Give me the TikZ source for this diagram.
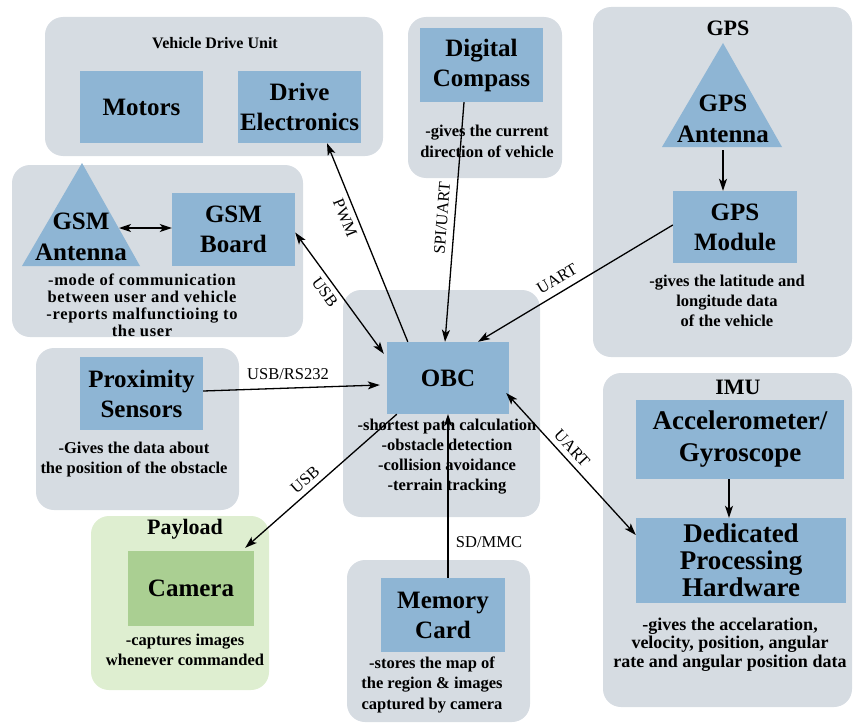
\documentclass[tikz,border=0pt]{standalone}
\usepackage{fontspec}
\setmainfont{Liberation Serif}
\usetikzlibrary{arrows.meta}
\definecolor{panelgray}{RGB}{214,220,226}
\definecolor{boxblue}{RGB}{142,181,212}
\definecolor{paygreen}{RGB}{222,238,208}
\definecolor{camgreen}{RGB}{170,207,146}
\begin{document}
\begin{tikzpicture}[x=1pt,y=-1pt,
  panel/.style={fill=panelgray, rounded corners=18pt, inner sep=0pt, draw=none},
  blk/.style={fill=boxblue, inner sep=0pt, align=center, font=\bfseries\fontsize{25}{30}\selectfont},
  desc/.style={inner sep=0pt, align=center, font=\bfseries\fontsize{16.5}{20}\selectfont},
  ttl/.style={inner sep=0pt, font=\bfseries\fontsize{22}{26}\selectfont},
  lbl/.style={inner sep=0pt, font=\fontsize{16.5}{20}\selectfont},
  conn/.style={line width=1.3pt, black},
  tip/.tip={Stealth[length=12pt,width=8pt,inset=3pt]}
]
\useasboundingbox (0,0) rectangle (853,725);

% ---------- panels ----------
\node[panel, minimum width=338pt, minimum height=139pt] (pVDU) at (214,86.5) {};
\node[panel, minimum width=154pt, minimum height=161pt] (pDC) at (485,97.5) {};
\node[panel, minimum width=259pt, minimum height=350pt] (pGPS) at (722.5,182) {};
\node[panel, minimum width=291pt, minimum height=172pt] (pGSM) at (157.5,251) {};
\node[panel, minimum width=203pt, minimum height=162pt] (pPROX) at (137.5,429) {};
\node[panel, minimum width=197pt, minimum height=227pt] (pOBC) at (441.5,403.5) {};
\node[panel, fill=paygreen, minimum width=178pt, minimum height=174pt] (pPAY) at (180,603) {};
\node[panel, minimum width=183pt, minimum height=162pt] (pMEM) at (438.5,641) {};
\node[panel, minimum width=249pt, minimum height=334pt] (pIMU) at (727.5,540) {};

% ---------- titles ----------
\node[inner sep=0pt, font=\bfseries\fontsize{16}{20}\selectfont] (tVDU) at (215,43) {Vehicle Drive Unit};
\node[ttl] (tGPS) at (728,28) {GPS};
\node[ttl] (tIMU) at (738,387) {IMU};
\node[ttl] (tPAY) at (185,529) {Payload};

% ---------- blocks ----------
\node[blk, minimum width=123pt, minimum height=72pt] (motors) at (141.5,107) {Motors};
\node[blk, minimum width=123pt, minimum height=72pt] (drive) at (299.5,107) {Drive\\Electronics};
\node[blk, minimum width=123pt, minimum height=74pt] (compass) at (481.5,65) {Digital\\Compass};
\node[blk, minimum width=124pt, minimum height=72pt] (gpsmod) at (735,227) {GPS\\Module};
\node[blk, minimum width=123pt, minimum height=73pt] (gsmboard) at (233.5,229.5) {GSM\\Board};
\node[blk, minimum width=123pt, minimum height=73pt] (prox) at (141.5,393.5) {Proximity\\Sensors};
\node[blk, minimum width=122pt, minimum height=72pt] (obc) at (448,378) {OBC};
\node[blk, fill=camgreen, minimum width=126pt, minimum height=75pt] (camera) at (191,588.5) {Camera};
\node[blk, minimum width=124pt, minimum height=74pt] (memory) at (443,615) {Memory\\Card};
\node[blk, font=\bfseries\fontsize{27}{32}\selectfont, minimum width=208pt, minimum height=79pt] (accel) at (740,439.5) {Accelerometer/\\Gyroscope};
\node[blk, font=\bfseries\fontsize{27}{27}\selectfont, minimum width=210pt, minimum height=85pt] (dedic) at (741,560.5) {Dedicated\\Processing\\Hardware};

% ---------- antennas ----------
\coordinate (gpsA1) at (662,147);
\coordinate (gpsA2) at (723,43);
\coordinate (gpsA3) at (782,147);
\fill[boxblue] (gpsA1) -- (gpsA2) -- (gpsA3) -- cycle;
\node[inner sep=0pt, align=center, font=\bfseries\fontsize{25}{31}\selectfont] (gpsant) at (723,119) {GPS\\Antenna};
\coordinate (gpsantB) at (723,150);

\coordinate (gsmA1) at (22,266);
\coordinate (gsmA2) at (82,163);
\coordinate (gsmA3) at (140,266);
\fill[boxblue] (gsmA1) -- (gsmA2) -- (gsmA3) -- cycle;
\node[inner sep=0pt, align=center, font=\bfseries\fontsize{25}{31}\selectfont] (gsmant) at (81,237) {GSM\\Antenna};
\coordinate (gsmantR) at (119,228);

% ---------- descriptions ----------
\node[desc, font=\bfseries\fontsize{16.5}{21}\selectfont] (dDC) at (487,141) {-gives the current\\direction of vehicle};
\node[desc] (dGPS) at (727,301) {-gives the latitude and\\longitude data\\of the vehicle};
\node[desc, font=\bfseries\fontsize{16.5}{17}\selectfont] (dGSM) at (142,305) {\addfontfeature{LetterSpace=4}-mode of communication\\\addfontfeature{LetterSpace=4}between user and vehicle\\\addfontfeature{LetterSpace=4}-reports malfunctioing to\\\addfontfeature{LetterSpace=4}the user};
\node[desc] (dPROX) at (134,460) {-Gives the data about\\the position of the obstacle};
\node[desc] (dOBC) at (447,457) {-shortest path calculation\\-obstacle detection\\-collision avoidance\\-terrain tracking};
\node[desc] (dCAM) at (185,650) {-captures images\\whenever commanded};
\node[desc, font=\bfseries\fontsize{16.5}{20.5}\selectfont] (dMEM) at (432,684.5) {-stores the map of\\the region \& images\\captured by camera};
\node[desc, font=\bfseries\fontsize{18}{18.5}\selectfont] (dIMU) at (730,644.5) {-gives the accelaration,\\velocity, position, angular\\rate and angular position data};

% ---------- connectors ----------
\draw[conn, -tip] ([xshift=21pt]obc.north west) -- ([xshift=27.5pt]drive.south);
\node[lbl, rotate=-68] (lpwm) at (345,218) {PWM};

\draw[conn, -tip] ([xshift=-17.5pt]compass.south) -- ([xshift=-3pt]obc.north);
\node[lbl, rotate=85.5] (lspi) at (442,218) {SPI/UART};

\draw[conn, -tip] ([yshift=2pt]gpsmod.west) -- ([xshift=30pt]obc.north);
\node[lbl, rotate=30.7] (luart1) at (557,279) {UART};

\draw[conn, tip-tip] ([yshift=-3pt]gsmboard.east) -- ([shift={(-3pt,-12pt)}]obc.north west);
\node[lbl, rotate=-54] (lusb1) at (325,292) {USB};

\draw[conn, -tip] ([yshift=2.5pt]prox.east) -- ([shift={(-7pt,-7pt)}]obc.west);
\node[lbl] (lrs) at (288,374) {USB/RS232};

\draw[conn, -tip] ([xshift=10pt]obc.south west) -- ([shift={(-9pt,3pt)}]camera.north east);
\node[lbl, rotate=41] (lusb2) at (305,480) {USB};

\draw[conn, -tip] ([xshift=5pt]memory.north) -- (obc.south);
\node[lbl] (lsd) at (489,542) {SD/MMC};

\draw[conn, tip-tip] ([shift={(-3pt,-15pt)}]obc.east) -- ([yshift=25.5pt]dedic.west);
\node[lbl, rotate=-47.5] (luart2) at (572,448) {UART};

\draw[conn, -tip] (gpsantB) -- (gpsantB |- gpsmod.north);
\draw[conn, -tip] ([xshift=-11pt]accel.south) -- ([xshift=-12pt]dedic.north);
\draw[conn, tip-tip] (gsmantR) -- (gsmantR -| gsmboard.west);
\end{tikzpicture}
\end{document}
